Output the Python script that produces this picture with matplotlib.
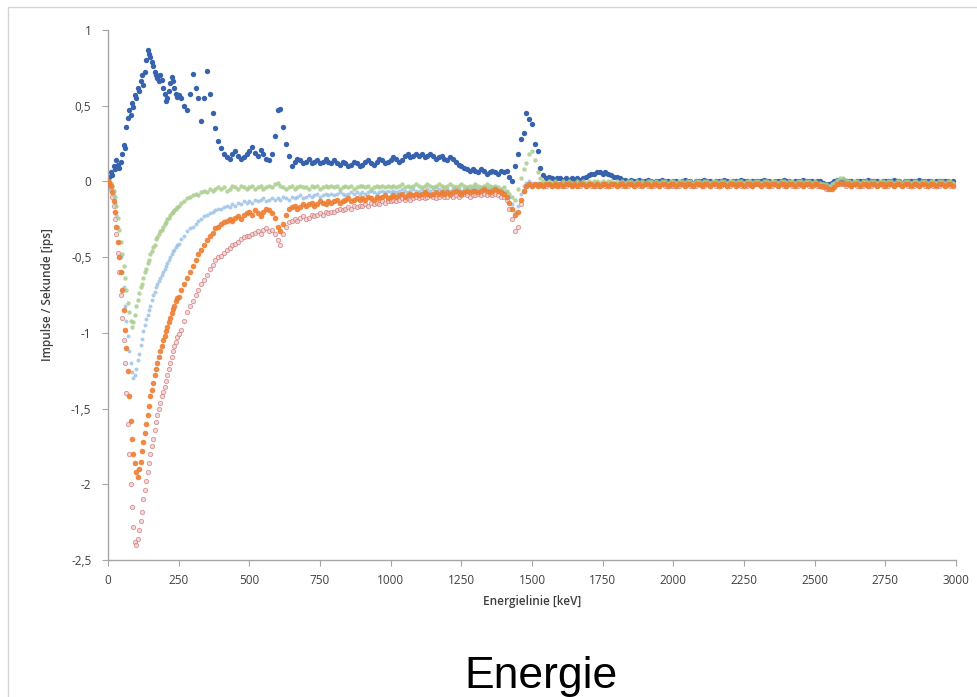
import matplotlib
matplotlib.use("Agg")
import matplotlib.pyplot as plt
from matplotlib.patches import Rectangle
from matplotlib.ticker import FuncFormatter, FixedLocator

# ---------------- data ----------------
# low-energy channels every 5 keV (0 ... 245), then every 10 keV (250 ... 2990)
energy_low = list(range(0, 250, 5))
energy_high = list(range(250, 3000, 10))
energy_kev = energy_low + energy_high

blue_low = [
    0.01, 0.03, 0.06, 0.04, 0.10, 0.08, 0.14, 0.11, 0.09, 0.13,
    0.18, 0.24, 0.22, 0.36, 0.42, 0.47, 0.44, 0.52, 0.49, 0.57,
    0.55, 0.62, 0.60, 0.66, 0.70, 0.64, 0.72, 0.80, 0.87, 0.84,
    0.82, 0.79, 0.76, 0.72, 0.70, 0.68, 0.66, 0.70, 0.67, 0.62,
    0.58, 0.53, 0.55, 0.60, 0.65, 0.69, 0.66, 0.62, 0.58, 0.56,
]
blue_high = [
    0.57, 0.55, 0.50, 0.47, 0.58,
    0.71, 0.62, 0.55, 0.40, 0.55, 0.73, 0.58, 0.45, 0.35, 0.27,
    0.22, 0.18, 0.16, 0.15, 0.18, 0.20, 0.17, 0.15, 0.16, 0.18,
    0.20, 0.23, 0.19, 0.17, 0.21, 0.18, 0.15, 0.14, 0.18, 0.30,
    0.47, 0.48, 0.36, 0.25, 0.17, 0.10, 0.13, 0.15, 0.14, 0.12,
    0.13, 0.15, 0.12, 0.13, 0.14, 0.12, 0.13, 0.15, 0.13, 0.12,
    0.14, 0.12, 0.11, 0.13, 0.12, 0.10, 0.11, 0.13, 0.12, 0.10,
    0.11, 0.13, 0.14, 0.12, 0.11, 0.13, 0.15, 0.14, 0.12, 0.13,
    0.14, 0.16, 0.15, 0.13, 0.14, 0.17, 0.18, 0.16, 0.17, 0.18,
    0.17, 0.18, 0.16, 0.17, 0.18, 0.17, 0.15, 0.16, 0.17, 0.15,
    0.14, 0.16, 0.15, 0.13, 0.11, 0.10, 0.09, 0.08, 0.07, 0.08,
    0.07, 0.06, 0.08, 0.07, 0.05, 0.06, 0.07, 0.06, 0.05, 0.07,
    0.06, 0.07, 0.03, 0.00, 0.10, 0.18, 0.28, 0.32, 0.45, 0.41,
    0.38, 0.25, 0.20, 0.09, 0.04, 0.02, 0.03, 0.02, 0.01, 0.02,
    0.02, 0.01, 0.02, 0.01, 0.02, 0.01, 0.02, 0.01, 0.02, 0.03,
    0.04, 0.05, 0.05, 0.06, 0.06, 0.05, 0.06, 0.05, 0.04, 0.03,
    0.03, 0.02, 0.01, 0.01, 0.00, 0.01, 0.00, 0.00, 0.01, 0.00,
    0.00, 0.01, 0.00, -0.01, 0.00, 0.00, 0.01, 0.00, 0.00, -0.01,
    0.00, 0.00, -0.01, 0.00, 0.01, 0.00, 0.00, -0.01, 0.00, 0.00,
    0.00, 0.01, 0.00, 0.00, -0.01, 0.00, 0.00, 0.00, 0.01, 0.00,
    -0.01, 0.00, 0.00, 0.00, 0.01, 0.00, 0.00, -0.01, 0.00, 0.00,
    0.00, 0.00, 0.01, 0.00, 0.00, -0.01, 0.00, 0.00, 0.00, 0.01,
    0.00, 0.00, -0.01, 0.00, 0.00, 0.00, 0.01, 0.00, 0.00, 0.00,
    -0.01, 0.00, 0.00, -0.01, -0.02, -0.02, -0.01, 0.00, 0.01, 0.00,
    0.01, 0.00, 0.00, 0.00, -0.01, 0.00, 0.00, 0.00, 0.00, 0.01,
    0.00, 0.00, 0.00, -0.01, 0.00, 0.00, 0.00, 0.00, 0.01, 0.00,
    0.00, -0.01, 0.00, 0.00, 0.00, 0.00, 0.00, 0.01, 0.00, 0.00,
    0.00, 0.00, -0.01, 0.00, 0.00, 0.00, 0.00, 0.00, -0.01, 0.00,
]

green_low = [
    0.00, 0.00, -0.01, -0.03, -0.06, -0.10, -0.16, -0.24, -0.32, -0.40,
    -0.48, -0.56, -0.64, -0.72, -0.80, -0.86, -0.92, -0.96, -0.93, -0.88,
    -0.82, -0.78, -0.74, -0.70, -0.68, -0.64, -0.60, -0.58, -0.54, -0.52,
    -0.48, -0.46, -0.43, -0.42, -0.38, -0.37, -0.35, -0.33, -0.32, -0.30,
    -0.28, -0.27, -0.25, -0.24, -0.22, -0.21, -0.20, -0.19, -0.18, -0.17,
]
green_high = [
    -0.16, -0.14, -0.13, -0.11, -0.10,
    -0.09, -0.08, -0.09, -0.07, -0.06, -0.07, -0.05, -0.06, -0.05, -0.04,
    -0.05, -0.04, -0.06, -0.05, -0.03, -0.04, -0.05, -0.03, -0.04, -0.05,
    -0.04, -0.03, -0.05, -0.04, -0.03, -0.05, -0.04, -0.03, -0.04, -0.02,
    -0.01, -0.03, -0.04, -0.05, -0.04, -0.03, -0.05, -0.04, -0.03, -0.04,
    -0.04, -0.05, -0.03, -0.04, -0.03, -0.05, -0.04, -0.03, -0.04, -0.03,
    -0.04, -0.03, -0.05, -0.04, -0.03, -0.04, -0.03, -0.05, -0.04, -0.03,
    -0.03, -0.04, -0.03, -0.05, -0.04, -0.03, -0.04, -0.03, -0.04, -0.03,
    -0.04, -0.03, -0.04, -0.03, -0.02, -0.04, -0.03, -0.04, -0.03, -0.02,
    -0.03, -0.04, -0.03, -0.02, -0.03, -0.04, -0.03, -0.02, -0.03, -0.04,
    -0.03, -0.02, -0.03, -0.04, -0.03, -0.02, -0.03, -0.04, -0.03, -0.03,
    -0.02, -0.03, -0.04, -0.03, -0.02, -0.03, -0.04, -0.03, -0.04, -0.05,
    -0.04, -0.06, -0.08, -0.10, -0.12, -0.05, 0.02, 0.08, 0.12, 0.18,
    0.20, 0.14, 0.06, 0.02, 0.00, -0.01, 0.00, -0.01, 0.00, -0.01,
    -0.01, 0.00, -0.01, 0.00, -0.01, -0.01, 0.00, -0.01, 0.00, -0.01,
    0.00, -0.01, 0.00, 0.00, -0.01, 0.00, -0.01, 0.00, 0.00, -0.01,
    0.00, -0.01, 0.00, -0.01, 0.00, 0.00, -0.01, 0.00, -0.01, 0.00,
    -0.01, 0.00, 0.00, -0.01, 0.00, -0.01, 0.00, 0.00, -0.01, 0.00,
    0.00, -0.01, 0.00, 0.00, -0.01, 0.00, 0.00, -0.01, 0.00, 0.00,
    -0.01, 0.00, 0.00, -0.01, 0.00, 0.00, -0.01, 0.00, 0.00, -0.01,
    0.00, 0.00, -0.01, 0.00, 0.00, -0.01, 0.00, 0.00, -0.01, 0.00,
    0.00, -0.01, 0.00, 0.00, -0.01, 0.00, 0.00, -0.01, 0.00, 0.00,
    -0.01, 0.00, 0.00, -0.01, 0.00, 0.00, -0.01, 0.00, 0.00, -0.01,
    0.00, -0.01, -0.01, -0.02, -0.02, -0.03, -0.02, -0.01, 0.01, 0.02,
    0.02, 0.01, 0.00, -0.01, 0.00, 0.00, -0.01, 0.00, 0.00, -0.01,
    0.00, 0.00, -0.01, 0.00, 0.00, -0.01, 0.00, 0.00, -0.01, 0.00,
    0.00, -0.01, 0.00, 0.00, -0.01, 0.00, 0.00, -0.01, 0.00, 0.00,
    -0.01, 0.00, 0.00, -0.01, 0.00, 0.00, -0.01, 0.00, 0.00, -0.01,
]

light_blue_low = [
    0.00, -0.01, -0.02, -0.05, -0.09, -0.14, -0.22, -0.30, -0.40, -0.50,
    -0.60, -0.70, -0.82, -0.92, -1.02, -1.12, -1.20, -1.26, -1.30, -1.28,
    -1.24, -1.18, -1.14, -1.08, -1.04, -0.99, -0.95, -0.91, -0.88, -0.85,
    -0.82, -0.78, -0.75, -0.73, -0.70, -0.68, -0.66, -0.64, -0.62, -0.60,
    -0.58, -0.56, -0.54, -0.52, -0.50, -0.48, -0.46, -0.45, -0.43, -0.42,
]
light_blue_high = [
    -0.41, -0.38, -0.36, -0.33, -0.31,
    -0.30, -0.28, -0.26, -0.25, -0.23, -0.22, -0.21, -0.20, -0.19, -0.18,
    -0.18, -0.17, -0.16, -0.17, -0.15, -0.16, -0.14, -0.15, -0.13, -0.14,
    -0.13, -0.14, -0.12, -0.13, -0.12, -0.11, -0.13, -0.12, -0.11, -0.12,
    -0.11, -0.12, -0.10, -0.11, -0.12, -0.10, -0.11, -0.10, -0.09, -0.11,
    -0.10, -0.09, -0.10, -0.09, -0.08, -0.10, -0.09, -0.08, -0.09, -0.08,
    -0.09, -0.08, -0.07, -0.08, -0.09, -0.08, -0.07, -0.08, -0.07, -0.08,
    -0.07, -0.08, -0.07, -0.06, -0.07, -0.08, -0.07, -0.06, -0.07, -0.06,
    -0.07, -0.06, -0.07, -0.06, -0.05, -0.06, -0.07, -0.06, -0.05, -0.06,
    -0.06, -0.05, -0.06, -0.05, -0.06, -0.05, -0.04, -0.05, -0.06, -0.05,
    -0.05, -0.06, -0.05, -0.04, -0.05, -0.06, -0.05, -0.04, -0.05, -0.05,
    -0.04, -0.05, -0.04, -0.05, -0.04, -0.05, -0.04, -0.05, -0.06, -0.05,
    -0.06, -0.07, -0.10, -0.15, -0.20, -0.16, -0.08, -0.03, -0.01, 0.00,
    -0.01, -0.02, -0.01, -0.02, -0.01, -0.01, -0.02, -0.01, -0.01, -0.02,
    -0.01, -0.01, -0.02, -0.01, -0.01, -0.02, -0.01, -0.01, -0.02, -0.01,
    -0.01, -0.02, -0.01, -0.01, -0.01, -0.02, -0.01, -0.01, -0.02, -0.01,
    -0.01, -0.01, -0.02, -0.01, -0.01, -0.01, -0.02, -0.01, -0.01, -0.01,
    -0.02, -0.01, -0.01, -0.01, -0.02, -0.01, -0.01, -0.01, -0.02, -0.01,
    -0.01, -0.01, -0.02, -0.01, -0.01, -0.01, -0.02, -0.01, -0.01, -0.01,
    -0.02, -0.01, -0.01, -0.01, -0.02, -0.01, -0.01, -0.01, -0.02, -0.01,
    -0.01, -0.01, -0.02, -0.01, -0.01, -0.01, -0.02, -0.01, -0.01, -0.01,
    -0.02, -0.01, -0.01, -0.01, -0.02, -0.01, -0.01, -0.01, -0.02, -0.01,
    -0.01, -0.01, -0.02, -0.01, -0.01, -0.01, -0.02, -0.01, -0.01, -0.01,
    -0.01, -0.02, -0.02, -0.02, -0.03, -0.03, -0.02, -0.01, 0.00, -0.01,
    -0.01, -0.01, -0.02, -0.01, -0.01, -0.01, -0.02, -0.01, -0.01, -0.01,
    -0.02, -0.01, -0.01, -0.01, -0.02, -0.01, -0.01, -0.01, -0.02, -0.01,
    -0.01, -0.01, -0.02, -0.01, -0.01, -0.01, -0.02, -0.01, -0.01, -0.01,
    -0.02, -0.01, -0.01, -0.01, -0.02, -0.01, -0.01, -0.01, -0.02, -0.01,
]

orange_low = [
    0.00, -0.01, -0.03, -0.07, -0.13, -0.20, -0.30, -0.40, -0.50, -0.60,
    -0.72, -0.85, -0.98, -1.10, -1.25, -1.42, -1.58, -1.70, -1.80, -1.86,
    -1.92, -1.95, -1.90, -1.85, -1.78, -1.72, -1.66, -1.60, -1.54, -1.48,
    -1.42, -1.38, -1.33, -1.28, -1.24, -1.20, -1.16, -1.12, -1.09, -1.05,
    -1.02, -0.99, -0.96, -0.93, -0.90, -0.87, -0.84, -0.82, -0.79, -0.77,
]
orange_high = [
    -0.76, -0.72, -0.68, -0.64, -0.60,
    -0.56, -0.52, -0.48, -0.45, -0.42, -0.39, -0.36, -0.34, -0.31, -0.30,
    -0.28, -0.27, -0.26, -0.25, -0.26, -0.24, -0.23, -0.25, -0.22, -0.21,
    -0.20, -0.22, -0.19, -0.21, -0.23, -0.20, -0.18, -0.19, -0.21, -0.24,
    -0.30, -0.33, -0.28, -0.22, -0.18, -0.17, -0.16, -0.18, -0.17, -0.15,
    -0.16, -0.15, -0.14, -0.16, -0.15, -0.13, -0.14, -0.15, -0.13, -0.14,
    -0.13, -0.12, -0.14, -0.13, -0.12, -0.11, -0.13, -0.12, -0.11, -0.12,
    -0.11, -0.12, -0.10, -0.11, -0.12, -0.10, -0.11, -0.10, -0.09, -0.11,
    -0.10, -0.09, -0.10, -0.09, -0.08, -0.10, -0.09, -0.08, -0.09, -0.08,
    -0.09, -0.08, -0.07, -0.08, -0.09, -0.08, -0.07, -0.08, -0.07, -0.08,
    -0.07, -0.08, -0.07, -0.06, -0.07, -0.08, -0.07, -0.06, -0.07, -0.06,
    -0.06, -0.07, -0.06, -0.05, -0.06, -0.07, -0.06, -0.05, -0.06, -0.07,
    -0.08, -0.10, -0.14, -0.18, -0.22, -0.20, -0.12, -0.06, -0.03, -0.02,
    -0.03, -0.02, -0.03, -0.02, -0.03, -0.02, -0.02, -0.03, -0.02, -0.03,
    -0.02, -0.03, -0.02, -0.02, -0.03, -0.02, -0.03, -0.02, -0.02, -0.03,
    -0.02, -0.02, -0.03, -0.02, -0.03, -0.02, -0.02, -0.03, -0.02, -0.02,
    -0.03, -0.02, -0.02, -0.03, -0.02, -0.02, -0.03, -0.02, -0.02, -0.03,
    -0.02, -0.02, -0.03, -0.02, -0.02, -0.03, -0.02, -0.02, -0.03, -0.02,
    -0.02, -0.03, -0.02, -0.02, -0.03, -0.02, -0.02, -0.03, -0.02, -0.02,
    -0.03, -0.02, -0.02, -0.03, -0.02, -0.02, -0.03, -0.02, -0.02, -0.03,
    -0.02, -0.02, -0.03, -0.02, -0.02, -0.03, -0.02, -0.02, -0.03, -0.02,
    -0.02, -0.03, -0.02, -0.02, -0.03, -0.02, -0.02, -0.03, -0.02, -0.02,
    -0.03, -0.02, -0.02, -0.03, -0.02, -0.02, -0.03, -0.02, -0.02, -0.03,
    -0.02, -0.02, -0.03, -0.03, -0.04, -0.05, -0.05, -0.04, -0.02, -0.01,
    -0.01, -0.02, -0.02, -0.03, -0.02, -0.02, -0.03, -0.02, -0.02, -0.03,
    -0.02, -0.02, -0.03, -0.02, -0.02, -0.03, -0.02, -0.02, -0.03, -0.02,
    -0.02, -0.03, -0.02, -0.02, -0.03, -0.02, -0.02, -0.03, -0.02, -0.02,
    -0.03, -0.02, -0.02, -0.03, -0.02, -0.02, -0.03, -0.02, -0.02, -0.03,
]

pink_low = [
    0.00, -0.02, -0.05, -0.10, -0.16, -0.25, -0.35, -0.47, -0.60, -0.75,
    -0.90, -1.05, -1.20, -1.40, -1.60, -1.80, -2.00, -2.15, -2.28, -2.38,
    -2.40, -2.36, -2.30, -2.24, -2.18, -2.10, -2.04, -1.98, -1.92, -1.86,
    -1.80, -1.75, -1.70, -1.64, -1.59, -1.54, -1.50, -1.46, -1.42, -1.39,
    -1.36, -1.32, -1.28, -1.24, -1.20, -1.16, -1.12, -1.09, -1.06, -1.03,
]
pink_high = [
    -1.01, -0.98, -0.92, -0.86, -0.82,
    -0.79, -0.75, -0.72, -0.68, -0.65, -0.62, -0.58, -0.55, -0.52, -0.50,
    -0.49, -0.47, -0.45, -0.44, -0.42, -0.41, -0.40, -0.38, -0.37, -0.36,
    -0.36, -0.35, -0.34, -0.33, -0.35, -0.32, -0.31, -0.33, -0.32, -0.35,
    -0.39, -0.42, -0.35, -0.30, -0.27, -0.26, -0.25, -0.26, -0.24, -0.23,
    -0.25, -0.24, -0.22, -0.23, -0.22, -0.21, -0.22, -0.20, -0.21, -0.20,
    -0.20, -0.19, -0.18, -0.19, -0.18, -0.17, -0.18, -0.16, -0.17, -0.16,
    -0.16, -0.15, -0.16, -0.14, -0.15, -0.14, -0.15, -0.13, -0.14, -0.13,
    -0.13, -0.12, -0.13, -0.12, -0.11, -0.12, -0.11, -0.12, -0.11, -0.10,
    -0.11, -0.10, -0.11, -0.10, -0.09, -0.10, -0.11, -0.10, -0.09, -0.10,
    -0.10, -0.09, -0.10, -0.09, -0.10, -0.09, -0.08, -0.09, -0.10, -0.09,
    -0.09, -0.08, -0.09, -0.08, -0.09, -0.08, -0.09, -0.08, -0.09, -0.10,
    -0.10, -0.12, -0.18, -0.25, -0.33, -0.30, -0.15, -0.06, -0.03, -0.02,
    -0.03, -0.02, -0.03, -0.02, -0.03, -0.03, -0.02, -0.03, -0.02, -0.03,
    -0.03, -0.02, -0.03, -0.02, -0.03, -0.02, -0.03, -0.03, -0.02, -0.03,
    -0.02, -0.03, -0.02, -0.03, -0.03, -0.02, -0.03, -0.02, -0.03, -0.02,
    -0.03, -0.02, -0.03, -0.02, -0.03, -0.02, -0.03, -0.02, -0.03, -0.02,
    -0.02, -0.03, -0.02, -0.03, -0.02, -0.03, -0.02, -0.03, -0.02, -0.03,
    -0.03, -0.02, -0.03, -0.02, -0.03, -0.02, -0.03, -0.02, -0.03, -0.02,
    -0.02, -0.03, -0.02, -0.03, -0.02, -0.03, -0.02, -0.03, -0.02, -0.03,
    -0.03, -0.02, -0.03, -0.02, -0.03, -0.02, -0.03, -0.02, -0.03, -0.02,
    -0.02, -0.03, -0.02, -0.03, -0.02, -0.03, -0.02, -0.03, -0.02, -0.03,
    -0.03, -0.02, -0.03, -0.02, -0.03, -0.02, -0.03, -0.02, -0.03, -0.02,
    -0.02, -0.03, -0.03, -0.04, -0.05, -0.05, -0.04, -0.03, -0.02, -0.02,
    -0.02, -0.03, -0.02, -0.03, -0.02, -0.03, -0.02, -0.03, -0.02, -0.03,
    -0.03, -0.02, -0.03, -0.02, -0.03, -0.02, -0.03, -0.02, -0.03, -0.02,
    -0.02, -0.03, -0.02, -0.03, -0.02, -0.03, -0.02, -0.03, -0.02, -0.03,
    -0.03, -0.02, -0.03, -0.02, -0.03, -0.02, -0.03, -0.02, -0.03, -0.02,
]

blue = blue_low + blue_high
green = green_low + green_high
light_blue = light_blue_low + light_blue_high
orange = orange_low + orange_high
pink = pink_low + pink_high

x_ticks = [0, 250, 500, 750, 1000, 1250, 1500, 1750, 2000, 2250, 2500, 2750, 3000]
y_ticks = [1, 0.5, 0, -0.5, -1, -1.5, -2, -2.5]
x_label = "Energielinie [keV]"
y_label = "Impulse / Sekunde [ips]"
caption = "Energie"

# ---------------- figure ----------------
W, H = 978, 697
fig = plt.figure(figsize=(W / 100, H / 100), dpi=100)
fig.patch.set_facecolor("white")

# thin frame around the chart area
fig.patches.append(Rectangle((8 / W, -0.01), 1.0, 1 - 7 / H + 0.01,
                             transform=fig.transFigure, fill=False,
                             edgecolor="#D4D4D4", linewidth=1.0))

ax = fig.add_axes([108 / W, 1 - 560 / H, (956 - 108) / W, (560 - 30) / H])
ax.set_xlim(0, 3000)
ax.set_ylim(-2.5, 1)

# series (drawn back to front)
ax.scatter(energy_kev, blue, s=15, color="#3763AE", linewidths=0, zorder=2)
ax.scatter(energy_kev, pink, s=10, facecolors="#F4C7C7", edgecolors="#C9797E",
           linewidths=0.6, alpha=0.75, zorder=3)
ax.scatter(energy_kev, light_blue, s=8, color="#9DC3E6", alpha=0.85,
           linewidths=0, zorder=4)
ax.scatter(energy_kev, green, s=10, color="#A9CD8C", alpha=0.85,
           linewidths=0, zorder=5)
ax.scatter(energy_kev, orange, s=16, color="#ED7D31", alpha=0.9,
           linewidths=0, zorder=6)

# axes styling
for side in ("top", "right"):
    ax.spines[side].set_visible(False)
for side in ("left", "bottom"):
    ax.spines[side].set_color("#A6A6A6")
    ax.spines[side].set_linewidth(1.0)

ax.xaxis.set_major_locator(FixedLocator(x_ticks))
ax.yaxis.set_major_locator(FixedLocator(y_ticks))


def comma_fmt(v, pos=None):
    if abs(v - round(v)) < 1e-9:
        return f"{int(round(v))}"
    return f"{v:.1f}".replace(".", ",")


ax.yaxis.set_major_formatter(FuncFormatter(comma_fmt))
ax.xaxis.set_major_formatter(FuncFormatter(lambda v, p: f"{int(v)}"))

ax.tick_params(axis="both", colors="#A6A6A6", labelcolor="#404040",
               labelsize=8.5, length=4, width=0.8, direction="out")
for lbl in ax.get_xticklabels() + ax.get_yticklabels():
    lbl.set_fontfamily("Open Sans")
ax.tick_params(axis="x", pad=6)
ax.tick_params(axis="y", pad=8)

ax.set_xlabel(x_label, fontsize=8.5, fontfamily="Open Sans",
              fontweight="semibold", color="#404040", labelpad=6)
ax.set_ylabel(y_label, fontsize=8.5, fontfamily="Open Sans",
              fontweight="semibold", color="#404040", labelpad=12)

fig.text(541 / W, 1 - 688 / H, caption, fontsize=32,
         fontfamily="Liberation Sans", color="black",
         ha="center", va="baseline")

fig.savefig("out.png", dpi=100, facecolor="white")
